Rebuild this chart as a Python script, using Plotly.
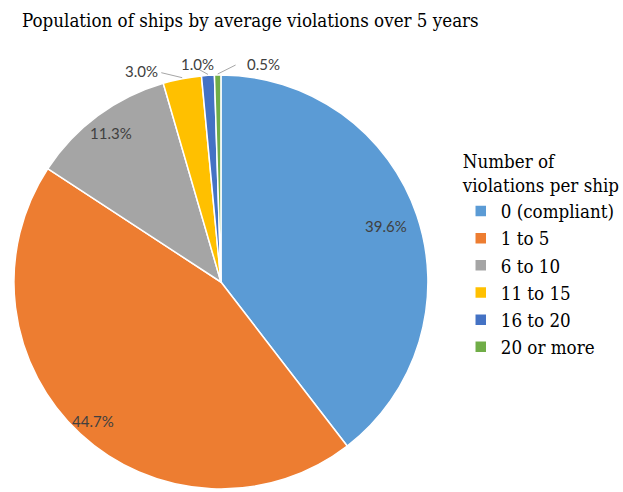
import math
import plotly.graph_objects as go

# Share of ships by average number of violations over 5 years
categories = ["0 (compliant)", "1 to 5", "6 to 10", "11 to 15", "16 to 20", "20 or more"]
shares = [39.6, 44.7, 11.3, 3.0, 1.0, 0.5]
colors = ["#5B9BD5", "#ED7D31", "#A5A5A5", "#FFC000", "#4472C4", "#70AD47"]

W, H = 623, 492
CX, CY, R = 222, 282, 208          # pie centre / radius in px (from top-left)
SERIF = "DejaVu Serif Condensed, DejaVu Serif"

# label placement: inside labels at a fraction of the radius,
# outside labels offset from the slice edge (px) with a leader line
inside_frac = {0: 0.84, 1: 0.91, 2: 0.89}
outside_off = {3: (-41, -7), 4: (-10, -10), 5: (46, -10)}
leader_end = {3: (-21, -5), 4: (-9, -5), 5: (18, -9)}


def px(x, y):
    return x / W, 1 - y / H


fig = go.Figure(go.Pie(
    labels=categories,
    values=shares,
    marker=dict(colors=colors, line=dict(color="white", width=1.5)),
    sort=False,
    direction="clockwise",
    rotation=0,
    textinfo="none",
    hoverinfo="label+percent",
    domain=dict(x=[(CX - R) / W, (CX + R) / W],
                y=[(H - CY - R) / H, (H - CY + R) / H]),
))

total = sum(shares)
annotations = []
shapes = []
cum = 0.0
for i, v in enumerate(shares):
    mid = (cum + v / 2) / total * 2 * math.pi
    cum += v
    sx, sy = math.sin(mid), -math.cos(mid)
    text = f"{v:.1f}%"
    if i in inside_frac:
        f = inside_frac[i]
        x, y = px(CX + f * R * sx, CY + f * R * sy)
    else:
        ex, ey = CX + R * sx, CY + R * sy
        ox, oy = outside_off[i]
        lx, ly = leader_end[i]
        x, y = px(ex + ox, ey + oy)
        x0, y0 = px(ex, ey)
        x1, y1 = px(ex + lx, ey + ly)
        shapes.append(dict(type="line", xref="paper", yref="paper",
                           x0=x0, y0=y0, x1=x1, y1=y1,
                           line=dict(color="#A6A6A6", width=1)))
    annotations.append(dict(x=x, y=y, xref="paper", yref="paper", text=text,
                            showarrow=False, xanchor="center", yanchor="middle",
                            font=dict(family="Lato", size=15, color="#404040")))

fig.update_layout(
    width=W, height=H,
    margin=dict(l=0, r=0, t=0, b=0),
    paper_bgcolor="white",
    plot_bgcolor="white",
    title=dict(text="Population of ships by average violations over 5 years",
               x=22 / W, xanchor="left", y=1 - 20 / H, yanchor="middle",
               font=dict(family=SERIF, size=18.6, color="#000000")),
    legend=dict(
        title=dict(text="Number of<br>violations per ship", side="top",
                   font=dict(family=SERIF, size=18.6, color="#000000")),
        font=dict(family=SERIF, size=18.6, color="#000000"),
        x=463 / W, xanchor="left", y=1 - 144 / H, yanchor="top",
        bgcolor="rgba(0,0,0,0)", itemclick=False,
    ),
    annotations=annotations,
    shapes=shapes,
)

fig.write_html("out.html")
